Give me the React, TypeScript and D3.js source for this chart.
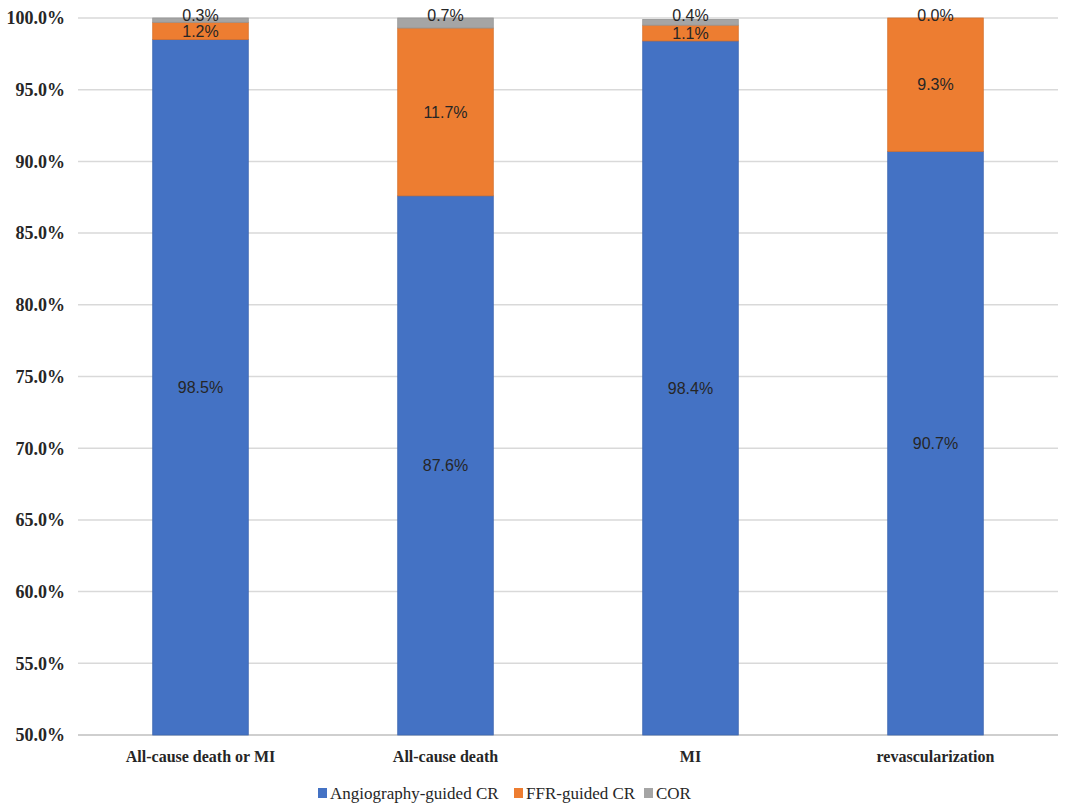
import React from 'react';
import * as d3 from 'd3';

const categories = ['All-cause death or MI', 'All-cause death', 'MI', 'revascularization'];
const seriesNames = ['Angiography-guided CR', 'FFR-guided CR', 'COR'];
const angiography = [98.5, 87.6, 98.4, 90.7];
const ffr = [1.2, 11.7, 1.1, 9.3];
const cor = [0.3, 0.7, 0.4, 0.0];
const yTicks = [50, 55, 60, 65, 70, 75, 80, 85, 90, 95, 100];
const colors = ['#4472C4', '#ED7D31', '#A5A5A5'];

const width = 1084;
const height = 808;
const margin = { top: 18, right: 26, bottom: 73, left: 78 };

export default function App() {
    const rows = categories.map((c, i) => ({ cat: c, a: angiography[i], f: ffr[i], c: cor[i] }));
    const stack = d3.stack<any>().keys(['a', 'f', 'c']);
    const series = stack(rows);

    const x = d3.scaleBand()
        .domain(categories)
        .range([margin.left, width - margin.right])
        .paddingInner(0.61)
        .paddingOuter(0.305);

    const y = d3.scaleLinear()
        .domain([50, 100])
        .range([height - margin.bottom, margin.top]);

    const fmt = (v: number) => d3.format('.1f')(v) + '%';
    const serif = '"Liberation Serif", "Times New Roman", serif';
    const sans = '"Liberation Sans", Arial, sans-serif';

    // legend layout
    const legendX = [318, 514, 644];

    return (
        <svg width={width} height={height} style={{ position: 'absolute', left: 0, top: 0, background: '#fff' }}>
            {/* gridlines */}
            {yTicks.map(t => (
                <line key={t} x1={margin.left} x2={width - margin.right} y1={y(t)} y2={y(t)}
                    stroke={t === 50 ? '#BFBFBF' : '#D9D9D9'} strokeWidth={1.5} />
            ))}
            {/* y tick labels */}
            {yTicks.map(t => (
                <text key={'l' + t} x={65} y={y(t)} dy="0.35em" textAnchor="end"
                    fontFamily={serif} fontSize={18} fontWeight="bold" fill="#262626">
                    {fmt(t)}
                </text>
            ))}
            {/* bars */}
            {series.map((s, si) => (
                <g key={s.key} fill={colors[si]}>
                    {s.map((d, i) => {
                        const y0 = y(Math.max(d[0], 50));
                        const y1 = y(d[1]);
                        return (
                            <rect key={i} x={x(categories[i])!} width={x.bandwidth()}
                                y={y1} height={Math.max(0, y0 - y1)}
                                stroke={d3.color(colors[si])!.darker(0.3).toString()} strokeWidth={0.8} />
                        );
                    })}
                </g>
            ))}
            {/* data labels */}
            {series.map((s, si) => (
                <g key={'dl' + s.key}>
                    {s.map((d, i) => {
                        const val = d[1] - d[0];
                        let cy = y((Math.max(d[0], 50) + d[1]) / 2);
                        if (si === 2) cy = Math.min(cy, y(100) - 3);
                        return (
                            <text key={i} x={x(categories[i])! + x.bandwidth() / 2} y={cy} dy="0.35em"
                                textAnchor="middle" fontFamily={sans} fontSize={16} fill="#262626">
                                {fmt(val)}
                            </text>
                        );
                    })}
                </g>
            ))}
            {/* x labels */}
            {categories.map(c => (
                <text key={c} x={x(c)! + x.bandwidth() / 2} y={762} textAnchor="middle"
                    fontFamily={serif} fontSize={16} fontWeight="bold" fill="#262626">
                    {c}
                </text>
            ))}
            {/* legend */}
            {seriesNames.map((n, i) => (
                <g key={n} transform={`translate(${legendX[i]}, 793)`}>
                    <rect x={0} y={-5} width={9} height={10} fill={colors[i]} />
                    <text x={12} y={0} dy="0.35em" fontFamily={serif} fontSize={17} fill="#262626">{n}</text>
                </g>
            ))}
        </svg>
    );
}
